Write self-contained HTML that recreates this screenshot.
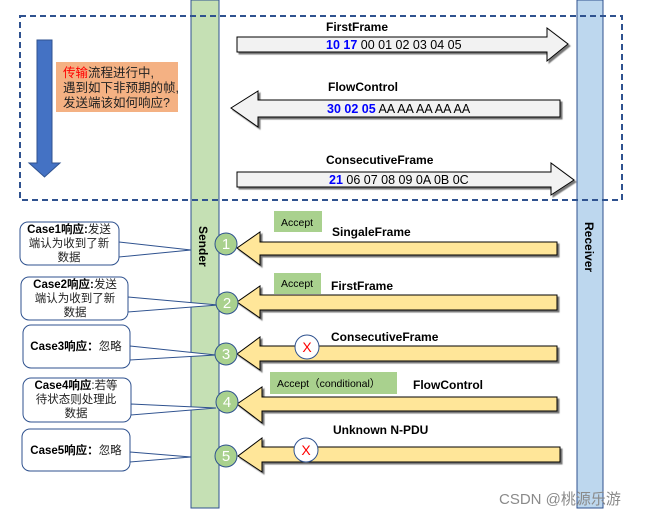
<!DOCTYPE html>
<html><head><meta charset="utf-8"><style>
body{margin:0;background:#fff;}
svg{display:block;}
text{font-family:"Liberation Sans","Noto Sans CJK SC",sans-serif;}
.b{font-weight:bold;font-size:12px;fill:#000;}
.cn{font-size:12.5px;fill:#222;}
</style></head><body>
<svg width="651" height="516" viewBox="0 0 651 516" xmlns="http://www.w3.org/2000/svg">
<defs>
<filter id="sh" x="-5%" y="-20%" width="110%" height="150%"><feDropShadow dx="2" dy="2" stdDeviation="0.6" flood-color="#555" flood-opacity="0.8"/></filter>
</defs>
<rect x="191" y="0" width="28" height="508" fill="#c5e0b4" stroke="#2f528f" stroke-width="1"/>
<rect x="577" y="0" width="26" height="508" fill="#bdd7ee" stroke="#2f528f" stroke-width="1"/>
<rect x="20" y="16" width="602" height="184" fill="none" stroke="#2f528f" stroke-width="2" stroke-dasharray="6,4"/>
<polygon points="37,40 52,40 52,163 60,163 44.5,177 29,163 37,163" fill="#4472c4" stroke="#2f528f" stroke-width="1"/>
<rect x="56" y="62" width="122" height="50" fill="#f4b183"/>
<text x="63" y="77" class="cn"><tspan fill="#ff0000">传输</tspan>流程进行中,</text>
<text x="63" y="92" class="cn">遇到如下非预期的帧,</text>
<text x="63" y="107" class="cn">发送端该如何响应?</text>
<polygon points="237,37 547,37 547,28 568,44 547,61 547,52 237,52" fill="#f2f2f2" stroke="#000" filter="url(#sh)"/>
<text x="326" y="31" class="b">FirstFrame</text>
<text x="326" y="49" font-size="12.5" fill="#000"><tspan fill="#0000ff" font-weight="bold">10 17</tspan> 00 01 02 03 04 05</text>
<polygon points="560,100 258,100 258,91 231,108 258,127 258,117 560,117" fill="#f2f2f2" stroke="#000" filter="url(#sh)"/>
<text x="328" y="91" class="b">FlowControl</text>
<text x="327" y="113" font-size="12.5" fill="#000"><tspan fill="#0000ff" font-weight="bold">30 02 05</tspan>  AA AA AA AA AA</text>
<polygon points="237,172 551,172 551,163 574,180 551,195 551,187 237,187" fill="#f2f2f2" stroke="#000" filter="url(#sh)"/>
<text x="326" y="164" class="b">ConsecutiveFrame</text>
<text x="329" y="184" font-size="12.5" fill="#000"><tspan fill="#0000ff" font-weight="bold">21</tspan> 06 07 08 09 0A 0B 0C</text>
<g fill="#ffe699" stroke="#000" filter="url(#sh)">
<polygon points="557,242 260,242 260,232 237,248 260,265 260,255 557,255"/>
<polygon points="557,295 260,295 260,286 237,302 260,318 260,310 557,310"/>
<polygon points="557,346 260,346 260,337 237,354 260,370 260,361 557,361"/>
<polygon points="557,397 262,397 262,387 237,404 262,423 262,411 557,411"/>
<polygon points="560,447 262,447 262,438 238,456 262,472 262,462 560,462"/>
</g>
<rect x="274" y="211" width="48" height="21" fill="#a9d18e"/>
<text x="281" y="226" font-size="10.5" fill="#000">Accept</text>
<rect x="274" y="273" width="47" height="21" fill="#a9d18e"/>
<text x="281" y="287" font-size="10.5" fill="#000">Accept</text>
<rect x="270" y="372" width="127" height="22" fill="#a9d18e"/>
<text x="277" y="387" font-size="10.5" fill="#000">Accept（conditional）</text>
<text x="332" y="236" class="b">SingaleFrame</text>
<text x="331" y="290" class="b">FirstFrame</text>
<text x="331" y="341" class="b">ConsecutiveFrame</text>
<text x="413" y="389" class="b">FlowControl</text>
<text x="333" y="434" class="b">Unknown N-PDU</text>
<g><circle cx="307" cy="347" r="12" fill="#fff" stroke="#2f528f"/><text x="307" y="352" text-anchor="middle" font-size="14" fill="#ff0000">X</text></g>
<g><circle cx="306" cy="450" r="12" fill="#fff" stroke="#2f528f"/><text x="306" y="455" text-anchor="middle" font-size="14" fill="#ff0000">X</text></g>
<g fill="#fff" stroke="#2f528f" stroke-width="1">
<polygon points="119,242 191,250 119,257" />
<rect x="20" y="222" width="99" height="43" rx="8"/>
<polygon points="128,297 218,305 128,312"/>
<rect x="21" y="277" width="107" height="43" rx="8"/>
<polygon points="130,346 216,355 130,360"/>
<rect x="23" y="325" width="107" height="43" rx="8"/>
<polygon points="131,404 216,408 131,415"/>
<rect x="23" y="378" width="108" height="44" rx="8"/>
<polygon points="130,452 191,457 130,462"/>
<rect x="22" y="429" width="108" height="42" rx="8"/>
</g>
<g font-size="11.5" fill="#222" text-anchor="middle">
<text x="69" y="233"><tspan font-weight="bold" fill="#000">Case1响应:</tspan>发送</text>
<text x="69" y="247">端认为收到了新</text>
<text x="69" y="261">数据</text>
<text x="75" y="288"><tspan font-weight="bold" fill="#000">Case2响应:</tspan>发送</text>
<text x="75" y="302">端认为收到了新</text>
<text x="75" y="316">数据</text>
<text x="76" y="350"><tspan font-weight="bold" fill="#000">Case3响应：</tspan>忽略</text>
<text x="76" y="389"><tspan font-weight="bold" fill="#000">Case4响应</tspan>:若等</text>
<text x="76" y="403">待状态则处理此</text>
<text x="76" y="417">数据</text>
<text x="76" y="454"><tspan font-weight="bold" fill="#000">Case5响应：</tspan>忽略</text>
</g>
<g fill="#a9d18e" stroke="#2f528f">
<circle cx="226" cy="244" r="11"/><circle cx="227" cy="303" r="11"/><circle cx="226" cy="354" r="11"/><circle cx="227" cy="402" r="11"/><circle cx="226" cy="456" r="11"/>
</g>
<g fill="#fff" font-size="15" text-anchor="middle">
<text x="226" y="249">1</text><text x="227" y="308">2</text><text x="226" y="359">3</text><text x="227" y="407">4</text><text x="226" y="461">5</text>
</g>
<text transform="translate(199,226) rotate(90)" class="b" font-size="14">Sender</text>
<text transform="translate(585,222) rotate(90)" class="b" font-size="14">Receiver</text>
<text x="499" y="504" font-size="15" fill="#8a8a8a">CSDN @桃源乐游</text>
</svg>
</body></html>
